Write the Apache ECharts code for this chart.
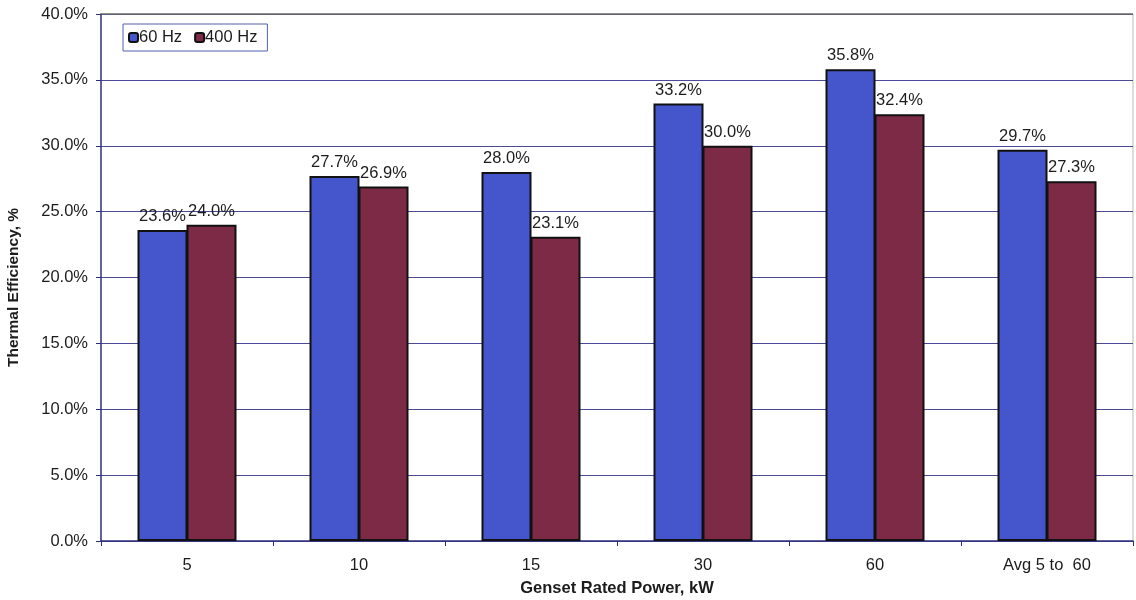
<!DOCTYPE html>
<html>
<head>
<meta charset="utf-8">
<script src="https://cdn.jsdelivr.net/npm/echarts@6/dist/echarts.min.js"></script>
<style>
  html, body { margin: 0; padding: 0; background: #fff; }
  #chart { width: 1136px; height: 600px; }
</style>
</head>
<body>
<div id="chart"></div>
<script>
// Genset rated power categories and thermal efficiency (%) per frequency
const categories = ['5', '10', '15', '30', '60', 'Avg 5 to  60'];
const hz60 = [23.6, 27.7, 28.0, 33.2, 35.8, 29.7];
const hz400 = [24.0, 26.9, 23.1, 30.0, 32.4, 27.3];
const seriesNames = ['60 Hz', '400 Hz'];

const axisColor = '#2e2e7e';
const textColor = '#1c1c1c';
const font = 'Liberation Sans, Arial, sans-serif';
const fs = 16.5;

const chart = echarts.init(document.getElementById('chart'));

function barSeries(name, data, color) {
  return {
    name: name,
    type: 'bar',
    data: data,
    barWidth: 50,
    barGap: '-2%',
    itemStyle: { color: color, borderColor: '#111', borderWidth: 2 },
    label: {
      show: true,
      position: 'top',
      distance: 5,
      formatter: p => p.value.toFixed(1) + '%',
      color: textColor,
      fontFamily: font,
      fontSize: fs
    }
  };
}

chart.setOption({
  animation: false,
  textStyle: { fontFamily: font },
  legend: {
    left: 123,
    top: 24,
    orient: 'horizontal',
    itemWidth: 9,
    itemHeight: 9,
    itemGap: 12,
    padding: [5, 10, 5, 5],
    borderColor: '#5060b0',
    borderWidth: 1,
    borderRadius: 0,
    textStyle: { color: textColor, fontSize: fs, fontFamily: font, padding: [0, 0, 0, -4] },
    itemStyle: { borderColor: '#111', borderWidth: 2 },
    data: seriesNames
  },
  grid: { left: 101, right: 3, top: 14, bottom: 59, containLabel: false, outerBoundsMode: 'none' },
  xAxis: {
    type: 'category',
    data: categories,
    name: 'Genset Rated Power, kW',
    nameLocation: 'middle',
    nameGap: 39,
    nameTextStyle: { fontWeight: 'bold', fontSize: 16.5, color: textColor, fontFamily: font },
    axisLine: { lineStyle: { color: axisColor, width: 1.5 } },
    axisTick: { show: true, length: 5, alignWithLabel: false, lineStyle: { color: axisColor } },
    axisLabel: { color: textColor, fontSize: fs, margin: 16, fontFamily: font }
  },
  yAxis: {
    type: 'value',
    min: 0,
    max: 40,
    interval: 5,
    name: 'Thermal Efficiency, %',
    nameLocation: 'middle',
    nameGap: 79,
    nameTextStyle: { fontWeight: 'bold', fontSize: 15.5, color: textColor, fontFamily: font,
      padding: [0, 20, 0, 0] },
    axisLine: { show: true, lineStyle: { color: axisColor, width: 1.5 } },
    axisTick: { show: true, length: 5, lineStyle: { color: axisColor } },
    axisLabel: { color: textColor, fontSize: fs, margin: 13, fontFamily: font,
      formatter: v => v.toFixed(1) + '%' },
    splitLine: { show: true, lineStyle: { color: '#4a4a96', width: 1 } }
  },
  series: [
    barSeries(seriesNames[0], hz60, '#4556cc'),
    barSeries(seriesNames[1], hz400, '#7c2a46')
  ],
  graphic: [
    {
      type: 'line',
      shape: { x1: 101, y1: 14, x2: 1133, y2: 14 },
      style: { stroke: '#6a6a6a', lineWidth: 1.5 },
      silent: true, z: 10
    },
    {
      type: 'line',
      shape: { x1: 1133, y1: 14, x2: 1133, y2: 541 },
      style: { stroke: '#bbbbbb', lineWidth: 1 },
      silent: true
    }
  ]
});
</script>
</body>
</html>
